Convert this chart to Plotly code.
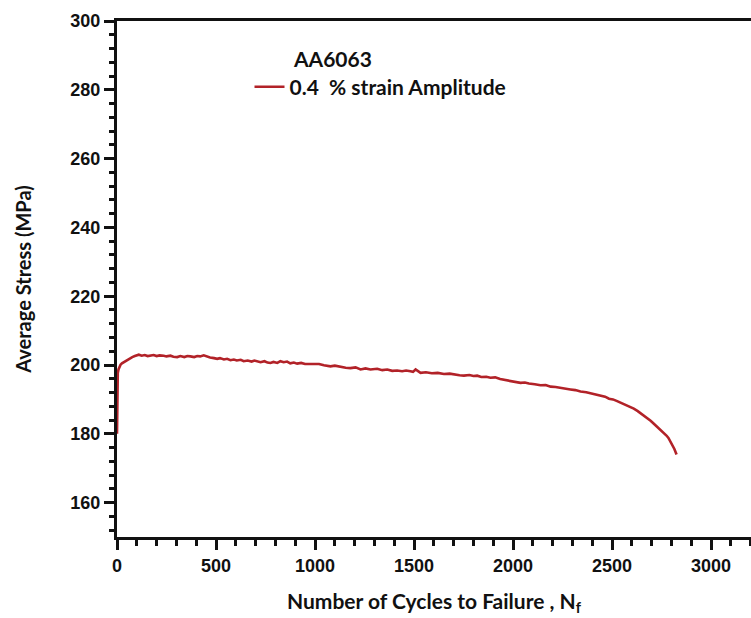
import plotly.graph_objects as go

cycles = [0, 1, 2, 4, 8, 12, 18, 25, 33, 43, 55, 66, 77, 90, 100, 110, 125, 140, 155, 169,
          185, 200, 215, 236, 250, 270, 285, 304, 320, 340, 355, 371, 390, 405, 420, 438,
          455, 470, 490, 506, 520, 540, 556, 573, 590, 605, 625, 640, 660, 680, 694, 708,
          725, 745, 760, 775, 790, 810, 825, 842, 859, 875, 893, 910, 930, 950, 977, 1000,
          1020, 1045, 1078, 1100, 1130, 1155, 1179, 1205, 1230, 1255, 1280, 1314, 1340,
          1365, 1390, 1415, 1440, 1460, 1482, 1495, 1508, 1520, 1533, 1560, 1590, 1620,
          1651, 1680, 1705, 1730, 1752, 1780, 1800, 1819, 1840, 1865, 1886, 1910, 1935,
          1954, 1975, 2000, 2020, 2038, 2060, 2080, 2110, 2139, 2165, 2190, 2215, 2240,
          2265, 2290, 2315, 2341, 2370, 2395, 2420, 2442, 2465, 2485, 2505, 2526, 2545,
          2565, 2590, 2610, 2630, 2650, 2665, 2678, 2695, 2710, 2730, 2745, 2760, 2775,
          2785, 2795, 2805, 2815, 2826]

stress = [180.0, 186.0, 192.0, 197.7, 198.8, 199.4, 200.1, 200.5, 200.8, 201.1, 201.6, 202.0,
          202.3, 202.6, 202.9, 203.0, 202.7, 202.9, 202.6, 202.7, 202.9, 202.6, 202.8, 202.7,
          202.5, 202.7, 202.4, 202.3, 202.6, 202.3, 202.6, 202.5, 202.3, 202.6, 202.5, 202.8,
          202.4, 202.2, 202.0, 201.8, 202.0, 201.6, 201.8, 201.4, 201.6, 201.3, 201.5, 201.1,
          201.3, 201.0, 201.3, 201.0, 200.8, 201.1, 200.7, 200.6, 200.9, 200.6, 201.1, 200.8,
          201.0, 200.5, 200.7, 200.4, 200.6, 200.3, 200.3, 200.1, 200.3, 199.9, 199.6, 199.8,
          199.4, 199.2, 199.1, 199.3, 198.7, 199.0, 198.7, 198.9, 198.5, 198.7, 198.3, 198.4,
          198.2, 198.4, 198.2, 198.0, 198.7, 198.1, 197.7, 197.9, 197.6, 197.7, 197.4, 197.5,
          197.2, 197.0, 196.9, 197.1, 196.8, 196.9, 196.5, 196.6, 196.3, 196.4, 195.9, 195.7,
          195.6, 195.3, 195.1, 194.8, 194.9, 194.6, 194.4, 194.1, 194.2, 193.7, 193.6, 193.3,
          193.2, 192.9, 192.7, 192.3, 192.1, 191.8, 191.5, 191.1, 190.8, 190.2, 190.0, 189.5,
          189.0, 188.5, 188.0, 187.3, 186.6, 185.8, 185.2, 184.5, 183.8, 183.0, 182.0, 181.2,
          180.4, 179.5, 178.8, 177.8, 176.8, 175.6, 174.0]

series_name = "0.4  % strain Amplitude"
material = "AA6063"
x_ticks = [0, 500, 1000, 1500, 2000, 2500, 3000]
y_ticks = [160, 180, 200, 220, 240, 260, 280, 300]

line_color = "#b22228"
tick_font = dict(family="Liberation Sans", size=18, color="#111111", weight="bold")

fig = go.Figure()
fig.add_trace(go.Scatter(x=cycles, y=stress, mode="lines", name=series_name,
                         line=dict(color=line_color, width=2.6)))

fig.update_layout(
    width=751, height=618,
    margin=dict(l=117, r=0, t=21, b=81),
    paper_bgcolor="white", plot_bgcolor="white",
    showlegend=True,
    legend=dict(x=0.209, y=0.872, xanchor="left", yanchor="middle",
                font=dict(family="Lato", size=21, color="#111111", weight="bold"),
                bgcolor="rgba(0,0,0,0)", borderwidth=0),
    annotations=[dict(text=material, x=0.2737, y=0.928, xref="paper", yref="paper",
                      xanchor="left", yanchor="middle", showarrow=False,
                      font=dict(family="Lato", size=21, color="#111111", weight="bold"))],
)

fig.update_xaxes(
    range=[0, 3202], tickvals=x_ticks, showgrid=False, zeroline=False,
    showline=True, linewidth=3, linecolor="#111111", mirror=True,
    ticks="outside", ticklen=10, tickwidth=3, tickcolor="#111111",
    minor=dict(dtick=100, ticks="outside", ticklen=6, tickwidth=2.5, tickcolor="#111111", showgrid=False),
    tickfont=tick_font,
    title=dict(text="Number of Cycles to Failure , N<sub>f</sub>",
               font=dict(family="Lato", size=21, color="#111111", weight="bold"), standoff=20),
)
fig.update_yaxes(
    range=[150, 300], tickvals=y_ticks, showgrid=False, zeroline=False,
    showline=True, linewidth=3, linecolor="#111111", mirror=False,
    ticks="outside", ticklen=10, tickwidth=3, tickcolor="#111111",
    minor=dict(dtick=4, ticks="outside", ticklen=5, tickwidth=2.5, tickcolor="#111111", showgrid=False),
    tickfont=tick_font,
    title=dict(text="Average Stress (MPa)",
               font=dict(family="Lato", size=20, color="#111111", weight="bold"), standoff=34),
)

fig.write_html("out.html")
